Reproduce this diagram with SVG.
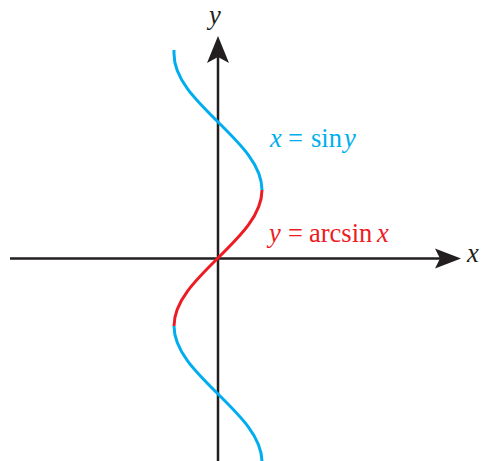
<svg xmlns="http://www.w3.org/2000/svg" width="485" height="461" viewBox="0 0 485 461">
<style>
.axis{stroke:#231f20;stroke-width:2.5;fill:none}
.head{fill:#231f20}
.blue{stroke:#00aeef;stroke-width:3;fill:none}
.red{stroke:#ed1c24;stroke-width:3;fill:none}
.lbl{font-family:"Liberation Serif","Times New Roman",serif;font-size:26.5px}
.it{font-style:italic}
</style>
<rect width="485" height="461" fill="#ffffff"/>
<g id="axes">
<line class="axis" x1="10" y1="258.5" x2="445" y2="258.5"/>
<path class="head" d="M461,258.5 L435,248.5 L440,258.5 L435,268.5 Z"/>
<line class="axis" x1="218" y1="461" x2="218" y2="50"/>
<path class="head" d="M218,36 L207,63 L218,57 L229,63 Z"/>
</g>
<g id="curves">
<path class="blue" d="M174,50 L174,53.95 C174,78.57 195.46,99.79 218,121.97 C240.54,144.15 262,165.37 262,189.98"/>
<path class="red" d="M262,189.98 C262,214.6 240.54,235.82 218,258 C195.46,280.18 174,301.4 174,326.02"/>
<path class="blue" d="M174,326.02 C174,350.63 195.46,371.85 218,394.03 C240.54,416.21 262,437.43 262,462.05"/>
</g>
<g id="labels">
<text class="lbl it" x="209" y="24" fill="#231f20">y</text>
<text class="lbl it" x="467" y="262" fill="#231f20">x</text>
<text class="lbl" y="147" fill="#00aeef"><tspan class="it" x="270">x</tspan><tspan x="288">=</tspan><tspan x="311">sin</tspan><tspan class="it" x="344">y</tspan></text>
<text class="lbl" y="242" fill="#ed1c24"><tspan class="it" x="269">y</tspan><tspan x="288">=</tspan><tspan x="309">arcsin</tspan><tspan class="it" x="377">x</tspan></text>
</g>
</svg>
